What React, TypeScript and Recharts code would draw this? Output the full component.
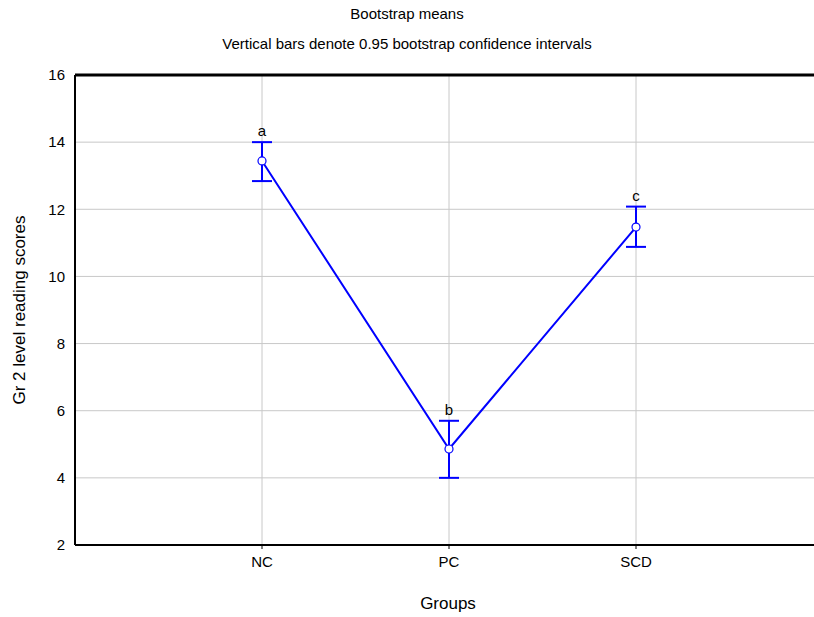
import { ComposedChart, Line, XAxis, YAxis, CartesianGrid, ErrorBar, LabelList } from 'recharts';

const groups = ['NC', 'PC', 'SCD'];
const means = [13.44, 4.86, 11.47];
const lower = [12.84, 4.0, 10.88];
const upper = [14.0, 5.7, 12.08];
const letters = ['a', 'b', 'c'];
const yTicks = [2, 4, 6, 8, 10, 12, 14, 16];

const data = groups.map((g, i) => ({
  x: i + 1,
  name: g,
  mean: means[i],
  upper: upper[i],
  letter: letters[i],
  err: [means[i] - lower[i], upper[i] - means[i]],
}));

const font = '"Liberation Sans Narrow", "Liberation Sans", Arial, sans-serif';
const blue = '#0000ff';

export default function App() {
  return (
    <div style={{ position: 'absolute', left: 0, top: 0, width: 814, height: 617, overflow: 'hidden', background: '#fff', fontFamily: font }}>
      <div style={{ position: 'absolute', left: 0, width: 814, top: 5, textAlign: 'center', fontSize: 15, color: '#000' }}>
        Bootstrap means
      </div>
      <div style={{ position: 'absolute', left: 0, width: 814, top: 35, textAlign: 'center', fontSize: 15, color: '#000' }}>
        Vertical bars denote 0.95 bootstrap confidence intervals
      </div>
      <div
        style={{
          position: 'absolute',
          left: 20,
          top: 310,
          transform: 'translate(-50%, -50%) rotate(-90deg)',
          whiteSpace: 'nowrap',
          fontSize: 17,
          color: '#000',
        }}
      >
        Gr 2 level reading scores
      </div>
      <div style={{ position: 'absolute', left: 348, width: 200, top: 594, textAlign: 'center', fontSize: 17, color: '#000' }}>
        Groups
      </div>
      <ComposedChart width={830} height={617} data={data} margin={{ top: 74, right: 7, bottom: 0, left: 0 }}>
        <CartesianGrid stroke="#c8c8c8" strokeWidth={1} />
        <XAxis
          dataKey="x"
          type="number"
          domain={[0, 4]}
          ticks={[1, 2, 3]}
          tickFormatter={(v: number) => groups[v - 1] ?? ''}
          height={72}
          axisLine={{ stroke: '#000', strokeWidth: 2 }}
          tickLine={{ stroke: '#000' }}
          tickSize={4}
          tickMargin={7}
          tick={{ fill: '#000', fontSize: 15, fontFamily: font }}
        />
        <XAxis
          xAxisId="top"
          orientation="top"
          dataKey="x"
          type="number"
          domain={[0, 4]}
          ticks={[1, 2, 3]}
          height={1}
          axisLine={{ stroke: '#000', strokeWidth: 3 }}
          tickLine={{ stroke: '#000' }}
          tickSize={-4}
          tick={false}
        />
        <YAxis
          type="number"
          domain={[2, 16]}
          ticks={yTicks}
          width={75}
          axisLine={{ stroke: '#000', strokeWidth: 2 }}
          tickLine={false}
          tickSize={0}
          tickMargin={10}
          tick={{ fill: '#000', fontSize: 15, fontFamily: font }}
        />
        <Line
          dataKey="mean"
          stroke={blue}
          strokeWidth={2}
          isAnimationActive={false}
          dot={{ r: 4, fill: '#fff', stroke: blue, strokeWidth: 1.2 }}
          activeDot={false}
        >
          <ErrorBar dataKey="err" width={10} stroke={blue} strokeWidth={2} direction="y" isAnimationActive={false} />
        </Line>
        <Line dataKey="upper" stroke="none" dot={false} activeDot={false} isAnimationActive={false}>
          <LabelList dataKey="letter" position="top" offset={6} fill="#000" fontSize={15} fontFamily={font} />
        </Line>
      </ComposedChart>
    </div>
  );
}
